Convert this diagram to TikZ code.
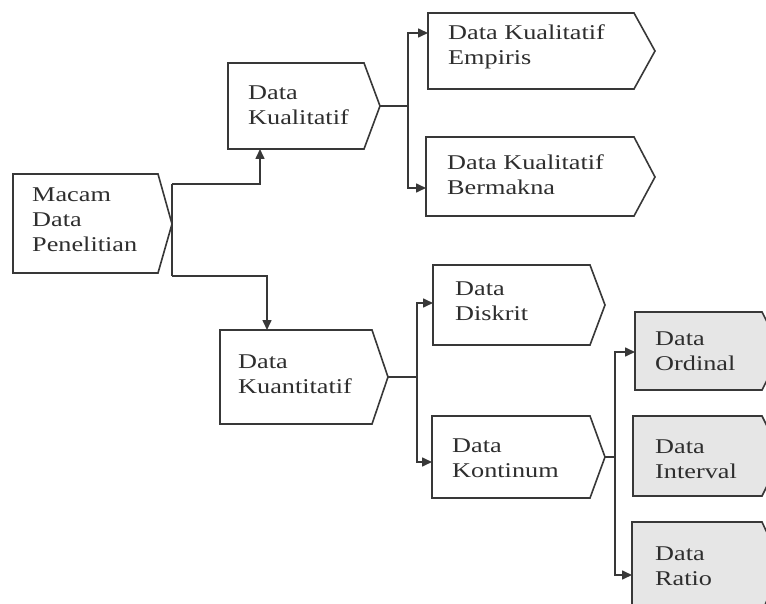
\documentclass[tikz,border=0pt]{standalone}
\usepackage{fontspec}
\setmainfont{Liberation Serif}
\usepackage{graphicx}
\usetikzlibrary{arrows.meta}
\definecolor{ink}{HTML}{383838}
\definecolor{txtc}{HTML}{2E2E2E}
\definecolor{shade}{HTML}{E6E6E6}
\newcommand{\boxtext}[1]{\scalebox{1.25}[1]{\begin{tabular}[t]{@{}l@{}}#1\end{tabular}}}
\tikzset{
 shapebox/.style={draw=ink, line width=1.6pt, line join=miter, fill=white},
 greybox/.style={shapebox, fill=shade},
 conn/.style={draw=ink, line width=1.6pt},
 arr/.style={conn, -{Triangle[length=10pt,width=9pt]}},
 lbl/.style={anchor=base west, inner sep=0pt, text=txtc, font=\fontsize{21}{25}\selectfont},
}
\begin{document}
\begin{tikzpicture}[x=1pt,y=-1pt]
\useasboundingbox[fill=white] (0,0) rectangle (766,604);
% boxes
\draw[shapebox] (13,174) -- (158,174) -- (172,224) -- (158,273) -- (13,273) -- cycle;
\coordinate (mac-tip) at (172,224);
\node[lbl] (mac) at (32,202) {\boxtext{Macam\\Data\\Penelitian}};

\draw[shapebox] (228,63) -- (364,63) -- (380,106) -- (364,149) -- (228,149) -- cycle;
\coordinate (kual-tip) at (380,106);
\coordinate (kual-s) at (260,149);
\node[lbl] (kual) at (248,100) {\boxtext{Data\\Kualitatif}};

\draw[shapebox] (428,13) -- (634,13) -- (655,51) -- (634,89) -- (428,89) -- cycle;
\coordinate (emp-in) at (428,33);
\node[lbl] (emp) at (448,40) {\boxtext{Data Kualitatif\\Empiris}};

\draw[shapebox] (426,137) -- (634,137) -- (655,177) -- (634,216) -- (426,216) -- cycle;
\coordinate (berm-in) at (426,188);
\node[lbl] (berm) at (447,170) {\boxtext{Data Kualitatif\\Bermakna}};

\draw[shapebox] (220,330) -- (372,330) -- (388,377) -- (372,424) -- (220,424) -- cycle;
\coordinate (kuan-tip) at (388,377);
\coordinate (kuan-n) at (267,330);
\node[lbl] (kuan) at (238,368) {\boxtext{Data\\Kuantitatif}};

\draw[shapebox] (433,265) -- (590,265) -- (605,305) -- (590,345) -- (433,345) -- cycle;
\coordinate (disk-in) at (433,303);
\node[lbl] (disk) at (455,295) {\boxtext{Data\\Diskrit}};

\draw[shapebox] (432,416) -- (590,416) -- (605,457) -- (590,498) -- (432,498) -- cycle;
\coordinate (kont-in) at (432,462);
\coordinate (kont-tip) at (605,457);
\node[lbl] (kont) at (452,452) {\boxtext{Data\\Kontinum}};

\begin{scope}
\clip (0,0) rectangle (766,604);
\draw[greybox] (635,312) -- (762,312) -- (782,351) -- (762,390) -- (635,390) -- cycle;
\draw[greybox] (633,416) -- (762,416) -- (782,456) -- (762,496) -- (633,496) -- cycle;
\draw[greybox] (632,522) -- (762,522) -- (782,565) -- (762,612) -- (632,612) -- cycle;
\end{scope}
\coordinate (ord-in) at (635,352);
\coordinate (rat-in) at (632,575);
\node[lbl] (ord) at (655,345) {\boxtext{Data\\Ordinal}};
\node[lbl] (int) at (655,453) {\boxtext{Data\\Interval}};
\node[lbl] (rat) at (655,560) {\boxtext{Data\\Ratio}};

% connectors
\draw[conn] (mac-tip) -- ++(0,-40) coordinate (j1);
\draw[arr] (j1) -| (kual-s);
\draw[conn] (mac-tip) -- ++(0,52) coordinate (j2);
\draw[arr] (j2) -| (kuan-n);

\coordinate (kj) at (408,106);
\draw[conn] (kual-tip) -- (kj);
\draw[arr] (kj) |- (emp-in);
\draw[arr] (kj) |- (berm-in);

\coordinate (qj) at (417,377);
\draw[conn] (kuan-tip) -- (qj);
\draw[arr] (qj) |- (disk-in);
\draw[arr] (qj) |- (kont-in);

\coordinate (cj) at (615,457);
\draw[conn] (kont-tip) -- (cj);
\draw[arr] (cj) |- (ord-in);
\draw[arr] (cj) |- (rat-in);
\end{tikzpicture}
\end{document}
